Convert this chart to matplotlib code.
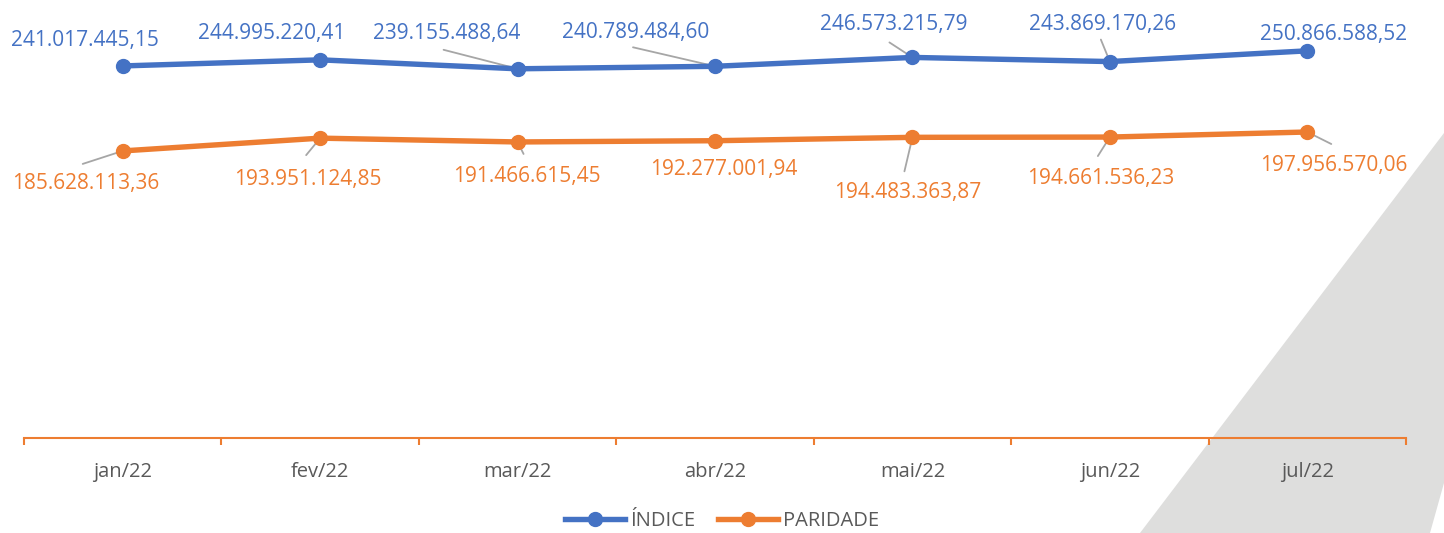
import matplotlib
matplotlib.use("Agg")
import matplotlib.pyplot as plt
from matplotlib.patches import Polygon
from matplotlib.lines import Line2D

categories = ["jan/22", "fev/22", "mar/22", "abr/22", "mai/22", "jun/22", "jul/22"]
indice = [241017445.15, 244995220.41, 239155488.64, 240789484.60,
          246573215.79, 243869170.26, 250866588.52]
paridade = [185628113.36, 193951124.85, 191466615.45, 192277001.94,
            194483363.87, 194661536.23, 197956570.06]
series_names = ["ÍNDICE", "PARIDADE"]

BLUE = "#4472C4"
ORANGE = "#ED7D31"
GREY_TXT = "#595959"
LEADER = "#A6A6A6"

plt.rcParams['font.family'] = ['Open Sans', 'DejaVu Sans']

W, H = 1444, 533
fig = plt.figure(figsize=(W / 100, H / 100), dpi=100)

# decorative grey band (figure coords, pixels -> fraction)
band = [(1444, 133), (1444, 483), (1430, 533), (1140, 533)]
fig.patches.append(Polygon([(x / W, 1 - y / H) for x, y in band], closed=True,
                           transform=fig.transFigure, facecolor="#DEDEDD",
                           edgecolor="none", zorder=0))

ax = fig.add_axes([24 / W, 1 - 438 / H, (1406 - 24) / W, 438 / H])
ax.patch.set_alpha(0)
ax.set_zorder(1)

x = list(range(len(categories)))
ax.plot(x, indice, color=BLUE, lw=3.9, marker="o", ms=10, label=series_names[0],
        solid_capstyle="round", zorder=3)
ax.plot(x, paridade, color=ORANGE, lw=3.9, marker="o", ms=10, label=series_names[1],
        solid_capstyle="round", zorder=3)

ax.set_xlim(-0.5, len(categories) - 0.5)
ax.set_ylim(-1.5e6, 284e6)

for s in ["top", "right", "left"]:
    ax.spines[s].set_visible(False)
ax.spines["bottom"].set_color(ORANGE)
ax.spines["bottom"].set_linewidth(1.5)
ax.set_yticks([])
ax.set_xticks(x)
ax.set_xticklabels(categories, fontsize=14.5, color=GREY_TXT)
ax.tick_params(axis="x", which="major", length=0, pad=17)
ax.set_xticks([i - 0.5 for i in range(len(categories) + 1)], minor=True)
ax.tick_params(axis="x", which="minor", length=5, width=1.5, color=ORANGE)


def fmt(v):
    s = f"{v:,.2f}"
    return s.replace(",", "X").replace(".", ",").replace("X", ".")


px = 0.72  # points per pixel at 100 dpi
# label offsets (pixels, y up) and leader start offsets (or None)
blue_lab = [(-38, 25), (-48, 26), (-71, 35), (-79, 34), (-19, 33), (-7, 37), (26, 16)]
blue_lead = [None, None, (-74, 19), (-82, 19), (-23, 15), (-9, 22), None]
or_lab = [(-37, -33), (-12, -41), (9, -35), (9, -29), (-5, -55), (-9, -41), (26, -33)]
or_lead = [(-40, -13), (-14, -17), (6, -12), None, (-8, -34), (-12, -19), (24, -12)]

for series, labs, leads, col in [(indice, blue_lab, blue_lead, BLUE),
                                 (paridade, or_lab, or_lead, ORANGE)]:
    for i, v in enumerate(series):
        dx, dy = labs[i]
        ax.annotate(fmt(v), (i, v), xytext=(dx * px, dy * px), textcoords="offset points",
                    ha="center", va="center", fontsize=15, color=col, zorder=4)
        if leads[i] is not None:
            lx, ly = leads[i]
            ax.annotate("", (i, v), xytext=(lx * px, ly * px), textcoords="offset points",
                        arrowprops=dict(arrowstyle="-", color=LEADER, lw=1.3,
                                        shrinkA=0, shrinkB=0), zorder=2)

leg = fig.legend(handles=[Line2D([], [], color=BLUE, lw=3.9, marker="o", ms=10),
                          Line2D([], [], color=ORANGE, lw=3.9, marker="o", ms=10)],
                 labels=series_names, loc="center", bbox_to_anchor=(0.5, 1 - 521 / H),
                 ncol=2, frameon=False, fontsize=14.5, handlelength=3.0,
                 columnspacing=1.1, handletextpad=0.25)
for t in leg.get_texts():
    t.set_color(GREY_TXT)

fig.savefig("out.png", dpi=100)
